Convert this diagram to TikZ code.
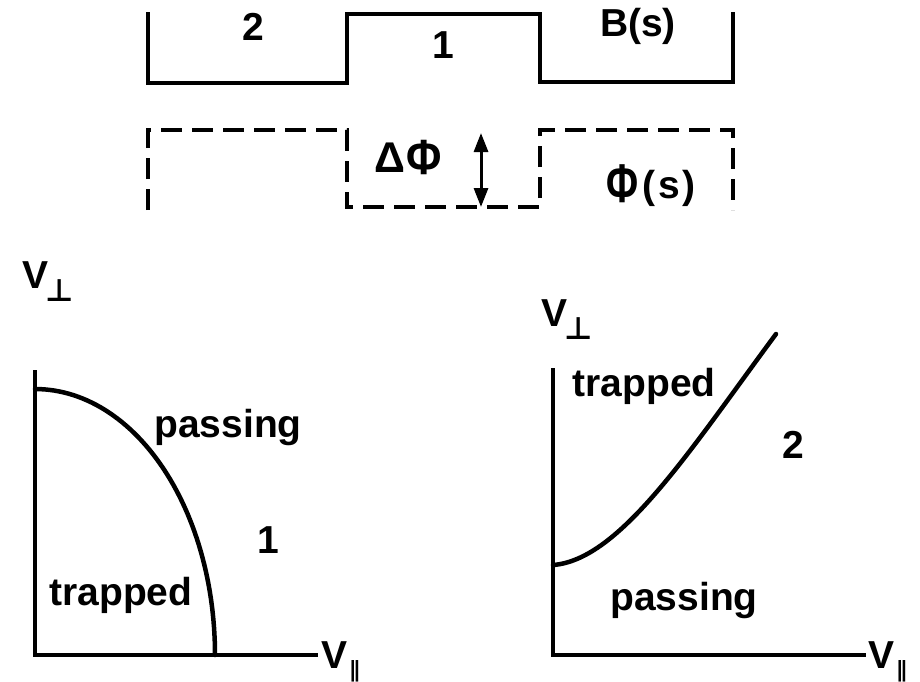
\documentclass[tikz,border=0pt]{standalone}
\usepackage{fontspec}
\setmainfont{Liberation Sans}
\newfontfamily\symfont{DejaVu Sans}
\usetikzlibrary{arrows.meta}
\newcommand{\perpsub}{\kern-3pt\raisebox{-13pt}{\symfont\bfseries\fontsize{31}{31}\selectfont ⊥}}
\newcommand{\parsub}{\kern2pt\raisebox{-9pt}{\symfont\bfseries\fontsize{22}{22}\selectfont ∥}}
\begin{document}
\begin{tikzpicture}[x=1pt,y=-1pt,
  lbl/.style={font=\fontsize{39}{40}\selectfont\bfseries, anchor=base, inner sep=0pt},
  heavy/.style={line width=4pt, line join=miter},
  dashline/.style={line width=4pt, dash pattern=on 21pt off 10pt},
  curve/.style={line width=4.5pt, line cap=round}]
\useasboundingbox (0,0) rectangle (920,681);
% B(s) profile
\coordinate (b0) at (148,12);
\coordinate (b1) at (148,83);
\coordinate (b2) at (347,83);
\coordinate (b3) at (347,14);
\coordinate (b4) at (540,14);
\coordinate (b5) at (540,82);
\coordinate (b6) at (733,82);
\coordinate (b7) at (733,12);
\draw[heavy] (b0) -- (b1) -- (b2) -- (b3) -- (b4) -- (b5) -- (b6) -- (b7);
\node[lbl] (reg2) at (253,40) {2};
\node[lbl] (reg1) at (443,58) {1};
\node[lbl] (bs) at (638,36) {B(s)};
% Phi(s) profile
\coordinate (p0) at (148,210);
\coordinate (p1) at (148,130);
\coordinate (p2) at (347,130);
\coordinate (p3) at (347,207);
\coordinate (p4) at (540,207);
\coordinate (p5) at (540,130);
\coordinate (p6) at (733,130);
\coordinate (p7) at (733,210);
\draw[dashline] (p0) -- (p1) -- (p2) -- (p3) -- (p4) -- (p5) -- (p6) -- (p7);
\coordinate (dt) at (481,133);
\coordinate (db) at (481,207);
\draw[line width=3pt, {Triangle[width=14pt,length=19pt]}-{Triangle[width=14pt,length=19pt]}] (dt) -- (db);
\node[lbl, anchor=base west] (dphi) at (374,172) {{\fontsize{43}{43}\selectfont Δ}\kern1pt\raisebox{-2pt}{\scalebox{1}[1.15]{\fontsize{43}{43}\selectfont Φ}}};
\node[lbl, anchor=base west] (phis) at (606,198) {\raisebox{-4pt}{\scalebox{1}[1.4]{Φ}}\kern4pt(\kern3pt s\kern3pt)};
% left plot (region 1)
\coordinate (ly) at (35,370);
\coordinate (lo) at (35,655);
\coordinate (lx) at (318,655);
\draw[heavy] (ly) -- (lo) -- (lx);
\node[lbl, anchor=base west] (lvp) at (22,288) {V\perpsub};
\node[lbl, anchor=base west] (lvx) at (321,668) {V\parsub};
\draw[curve] plot[domain=0:90, samples=60] ({35+180*cos(\x)},{655-266*sin(\x)});
\node[lbl] (lpass) at (228,437) {passing};
\node[lbl] (ltrap) at (121,605) {trapped};
\node[lbl] (lone) at (268,553) {1};
% right plot (region 2)
\coordinate (ry) at (553,368);
\coordinate (ro) at (553,655);
\coordinate (rx) at (866,655);
\draw[heavy] (ry) -- (ro) -- (rx);
\node[lbl, anchor=base west] (rvp) at (541,326) {V\perpsub};
\node[lbl, anchor=base west] (rvx) at (868,668) {V\parsub};
\draw[curve] (553,565) .. controls (620,560) and (690,450) .. (776,334);
\node[lbl] (rtrap) at (644,396) {trapped};
\node[lbl] (rtwo) at (793,458) {2};
\node[lbl] (rpass) at (684,610) {passing};
\end{tikzpicture}
\end{document}
